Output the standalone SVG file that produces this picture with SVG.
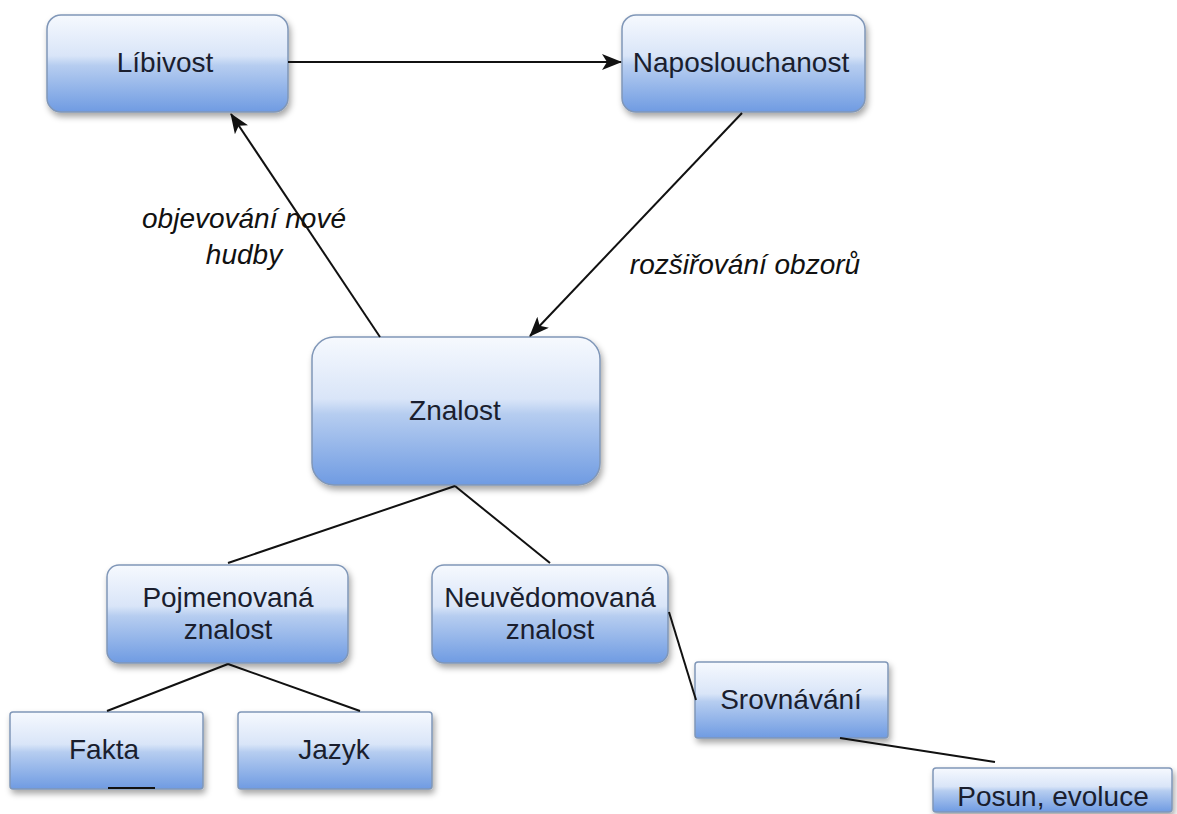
<svg xmlns="http://www.w3.org/2000/svg" width="1177" height="814" viewBox="0 0 1177 814">
<style>
.box{fill:url(#g);stroke:#8097b8;stroke-width:1.5;filter:url(#sh)}
.t{font-family:"Liberation Sans",Arial,sans-serif;font-size:28px;fill:#1a1e2e;text-anchor:middle}
.lbl{font-family:"Liberation Sans",Arial,sans-serif;font-size:28px;font-style:italic;fill:#111;text-anchor:middle}
.c{stroke:#111;stroke-width:2;fill:none}
</style>
<defs>
<linearGradient id="g" x1="0" y1="0" x2="0" y2="1">
<stop offset="0" stop-color="#f6f9fe"/>
<stop offset="0.42" stop-color="#d9e5f8"/>
<stop offset="0.52" stop-color="#b6cdf0"/>
<stop offset="1" stop-color="#6f9be2"/>
</linearGradient>
<filter id="sh" x="-10%" y="-10%" width="125%" height="135%">
<feDropShadow dx="2" dy="4" stdDeviation="3" flood-color="#000" flood-opacity="0.35"/>
</filter>
<marker id="ah" markerWidth="20" markerHeight="16" refX="19" refY="8" orient="auto" markerUnits="userSpaceOnUse">
<path d="M0,0 L20,8 L0,16 L5,8 Z" fill="#111"/>
</marker>
</defs>
<rect width="1177" height="814" fill="#fff"/>
<g id="libivost"><rect class="box" x="47" y="15" width="241" height="97" rx="14"/><text class="t" x="165" y="72">Líbivost</text></g>
<g id="naposlouchanost"><rect class="box" x="622" y="15" width="243" height="97" rx="14"/><text class="t" x="741" y="72">Naposlouchanost</text></g>
<g id="znalost"><rect class="box" x="312" y="337" width="288" height="148" rx="22"/><text class="t" x="455" y="420">Znalost</text></g>
<g id="pojmenovana"><rect class="box" x="107" y="565" width="241" height="98" rx="12"/><text class="t" x="228" y="607">Pojmenovaná</text><text class="t" x="228" y="639">znalost</text></g>
<g id="neuvedomovana"><rect class="box" x="432" y="565" width="236" height="98" rx="12"/><text class="t" x="550" y="607">Neuvědomovaná</text><text class="t" x="550" y="639">znalost</text></g>
<g id="srovnavani"><rect class="box" x="695" y="662" width="193" height="76" rx="3"/><text class="t" x="791" y="709">Srovnávání</text></g>
<g id="posun"><rect class="box" x="933" y="768" width="239" height="44" rx="3"/><text class="t" x="1053" y="806">Posun, evoluce</text></g>
<g id="fakta"><rect class="box" x="10" y="712" width="193" height="77" rx="3"/><text class="t" x="104" y="759">Fakta</text></g>
<g id="jazyk"><rect class="box" x="238" y="712" width="194" height="77" rx="3"/><text class="t" x="334" y="759">Jazyk</text></g>
<g id="connectors">
<line class="c" x1="288" y1="62" x2="621" y2="62" marker-end="url(#ah)"/>
<line class="c" x1="380" y1="337" x2="231" y2="114" marker-end="url(#ah)"/>
<line class="c" x1="742" y1="113" x2="530" y2="336" marker-end="url(#ah)"/>
<line class="c" x1="455" y1="486" x2="228" y2="563"/>
<line class="c" x1="455" y1="486" x2="550" y2="563"/>
<line class="c" x1="228" y1="664" x2="107" y2="711"/>
<line class="c" x1="228" y1="664" x2="360" y2="711"/>
<line class="c" x1="669" y1="612" x2="696" y2="700"/>
<line class="c" x1="840" y1="738" x2="995" y2="762"/>
<line class="c" x1="108" y1="788" x2="155" y2="788"/>
</g>
<g id="labels">
<text class="lbl" x="244" y="228">objevování nové</text>
<text class="lbl" x="244" y="264">hudby</text>
<text class="lbl" x="745" y="274">rozšiřování obzorů</text>
</g>
</svg>
